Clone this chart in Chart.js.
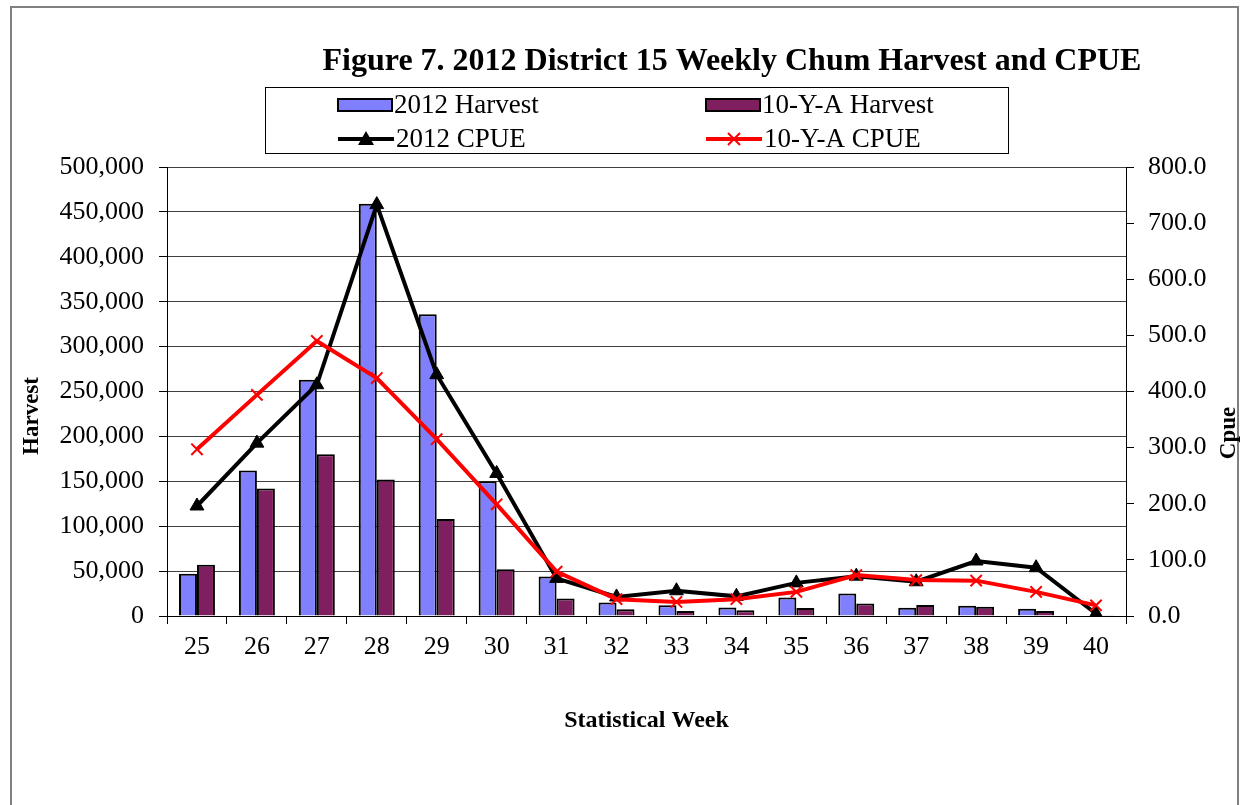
<!DOCTYPE html>
<html>
<head>
<meta charset="utf-8">
<script src="https://cdn.jsdelivr.net/npm/chart.js@4.4.0/dist/chart.umd.min.js"></script>
<style>
html, body { margin: 0; padding: 0; background: #fff; }
#wrap { width: 1245px; height: 805px; }
</style>
</head>
<body>
<div id="wrap"><canvas id="myChart" width="1245" height="805"></canvas></div>
<script>
// data
var weeks = ['25', '26', '27', '28', '29', '30', '31', '32', '33', '34', '35', '36', '37', '38', '39', '40'];
var harvest2012 = [47000, 162000, 263000, 459000, 336000, 150000, 44000, 15000, 12000, 9500, 20500, 25000, 9300, 11500, 8000, 0];
var harvestAvg = [57000, 142000, 180000, 152000, 108000, 52000, 19500, 7400, 5600, 6300, 8900, 14000, 12200, 10400, 5600, 800];
var cpue2012 = [196, 308, 412, 733, 430, 254, 67, 34, 45, 35, 59, 71, 61, 98, 86, 4];
var cpueAvg = [297, 394, 490, 424, 315, 199, 79, 30, 25, 30, 43, 73, 64, 63, 43, 19];

var chartTitle = 'Figure 7. 2012 District 15 Weekly Chum Harvest and CPUE';
var leftTitle = 'Harvest';
var rightTitle = 'Cpue';
var serif = "'Liberation Serif', 'Times New Roman', serif";

Chart.defaults.font.family = serif;
Chart.defaults.color = '#000';

// white page, outer frame, title, rotated axis titles and boxed legend
var framePlugin = {
    id: 'frame',
    beforeDraw: function (chart) {
        var ctx = chart.ctx;
        ctx.save();
        ctx.fillStyle = '#fff';
        ctx.fillRect(0, 0, chart.width, chart.height);
        ctx.strokeStyle = '#808080';
        ctx.lineWidth = 2;
        ctx.strokeRect(11, 7, chart.width - 18, chart.height + 20);
        ctx.restore();
    },
    afterDraw: function (chart) {
        var ctx = chart.ctx;
        var ds = chart.data.datasets;
        ctx.save();
        ctx.fillStyle = '#000';
        ctx.textAlign = 'center';
        ctx.textBaseline = 'middle';
        ctx.font = 'bold 32px ' + serif;
        ctx.fillText(chartTitle, 732, 62);

        // axis titles, both read bottom to top
        ctx.font = 'bold 23px ' + serif;
        ctx.save();
        ctx.translate(32, 416);
        ctx.rotate(-Math.PI / 2);
        ctx.fillText(leftTitle, 0, 0);
        ctx.restore();
        ctx.save();
        ctx.translate(1229, 433);
        ctx.rotate(-Math.PI / 2);
        ctx.fillText(rightTitle, 0, 0);
        ctx.restore();

        // legend box
        ctx.strokeStyle = '#000';
        ctx.lineWidth = 1;
        ctx.strokeRect(265.5, 87.5, 743, 66);

        ctx.font = '27px ' + serif;
        ctx.textAlign = 'left';
        var cols = [338, 706];
        var rows = [105, 139];
        // bars
        for (var i = 0; i < 2; i++) {
            ctx.fillStyle = ds[i].backgroundColor;
            ctx.fillRect(cols[i], rows[0] - 6, 54, 12);
            ctx.strokeStyle = '#000';
            ctx.lineWidth = 2;
            ctx.strokeRect(cols[i], rows[0] - 6, 54, 12);
            ctx.fillStyle = '#000';
            ctx.fillText(ds[i].label, cols[i] + 56, rows[0] + 1);
        }
        // lines
        for (var j = 2; j < 4; j++) {
            var x0 = cols[j - 2];
            var y0 = rows[1];
            ctx.strokeStyle = ds[j].borderColor;
            ctx.lineWidth = 4;
            ctx.beginPath();
            ctx.moveTo(x0, y0);
            ctx.lineTo(x0 + 56, y0);
            ctx.stroke();
            var cx = x0 + 28;
            if (ds[j].pointStyle === 'triangle') {
                ctx.fillStyle = '#000';
                ctx.beginPath();
                ctx.moveTo(cx, y0 - 8);
                ctx.lineTo(cx + 8, y0 + 6);
                ctx.lineTo(cx - 8, y0 + 6);
                ctx.closePath();
                ctx.fill();
            } else {
                ctx.lineWidth = 2;
                ctx.beginPath();
                ctx.moveTo(cx - 6, y0 - 6);
                ctx.lineTo(cx + 6, y0 + 6);
                ctx.moveTo(cx + 6, y0 - 6);
                ctx.lineTo(cx - 6, y0 + 6);
                ctx.stroke();
            }
            ctx.fillStyle = '#000';
            ctx.fillText(ds[j].label, x0 + 58, y0 + 1);
        }
        ctx.restore();
    }
};

var ctx = document.getElementById('myChart');
var chumChart = new Chart(ctx, {
    type: 'bar',
    data: {
        labels: weeks,
        datasets: [{
            label: '2012 Harvest',
            data: harvest2012,
            backgroundColor: '#8080FF',
            borderColor: '#000',
            borderWidth: 2,
            yAxisID: 'y',
            order: 2
        }, {
            label: '10-Y-A Harvest',
            data: harvestAvg,
            backgroundColor: '#7F1F5F',
            borderColor: '#000',
            borderWidth: 2,
            yAxisID: 'y',
            order: 3
        }, {
            type: 'line',
            label: '2012 CPUE',
            data: cpue2012,
            borderColor: '#000',
            backgroundColor: '#000',
            borderWidth: 4,
            pointStyle: 'triangle',
            pointRadius: 8,
            pointBackgroundColor: '#000',
            pointBorderColor: '#000',
            pointBorderWidth: 1,
            tension: 0,
            yAxisID: 'y1',
            order: 1
        }, {
            type: 'line',
            label: '10-Y-A CPUE',
            data: cpueAvg,
            borderColor: '#FF0000',
            backgroundColor: '#FF0000',
            borderWidth: 4,
            pointStyle: 'crossRot',
            pointRadius: 8,
            pointBorderColor: '#FF0000',
            pointBorderWidth: 2,
            tension: 0,
            yAxisID: 'y1',
            order: 0
        }]
    },
    options: {
        responsive: false,
        animation: false,
        layout: { padding: { left: 14, right: 0, top: 167, bottom: 0 } },
        datasets: {
            bar: { categoryPercentage: 0.6, barPercentage: 1.0 }
        },
        plugins: {
            legend: { display: false },
            title: { display: false },
            tooltip: { enabled: false }
        },
        scales: {
            x: {
                grid: { display: true, drawOnChartArea: false, offset: true, tickLength: 8, color: '#000', lineWidth: 1 },
                border: { color: '#000', width: 1 },
                ticks: { font: { size: 26 }, padding: 8, maxRotation: 0 },
                title: { display: true, text: 'Statistical Week', font: { size: 24, weight: 'bold' }, padding: { top: 0, bottom: 70 } },
                afterFit: function (scale) { scale.height = 189; }
            },
            y: {
                position: 'left',
                min: 0,
                max: 500000,
                grid: { color: '#404040', lineWidth: 1, tickLength: 8, tickColor: '#000' },
                border: { color: '#000', width: 1 },
                ticks: {
                    stepSize: 50000,
                    padding: 15,
                    font: { size: 26 },
                    callback: function (v) { return v.toLocaleString('en-US'); }
                },
                afterFit: function (scale) { scale.width = 153; }
            },
            y1: {
                position: 'right',
                min: 0,
                max: 800,
                grid: { drawOnChartArea: false, tickLength: 8, color: '#000' },
                border: { color: '#000', width: 1 },
                ticks: {
                    stepSize: 100,
                    padding: 14,
                    font: { size: 26 },
                    callback: function (v) { return v.toFixed(1); }
                },
                afterFit: function (scale) { scale.width = 119; }
            }
        }
    },
    plugins: [framePlugin]
});
</script>
</body>
</html>
